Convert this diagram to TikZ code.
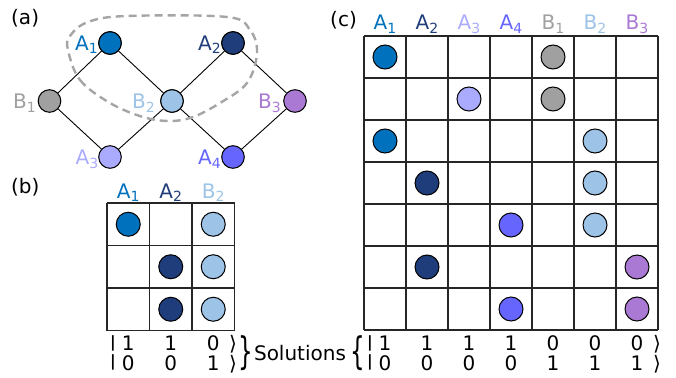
\documentclass[tikz,border=0pt]{standalone}
\usepackage{graphicx}
\usepackage{fontspec}
\setmainfont{DejaVu Sans}
\definecolor{cAa}{RGB}{0,114,189}
\definecolor{cAb}{RGB}{31,61,122}
\definecolor{cAc}{RGB}{170,170,255}
\definecolor{cAd}{RGB}{102,102,255}
\definecolor{cBa}{RGB}{160,160,160}
\definecolor{cBb}{RGB}{157,195,230}
\definecolor{cBc}{RGB}{170,121,212}
\definecolor{dashgray}{RGB}{165,165,165}
\newcommand\sbs[1]{\raisebox{-3.5pt}{\fontsize{14}{14}\selectfont #1}}
\newcommand\ketbar{\raisebox{3.4pt}{\fontsize{15.5}{16}\selectfont\bfseries |}}
\tikzset{
  vtx/.style={circle, draw=black, line width=1pt, minimum size=22.6pt, inner sep=0pt},
  cellc/.style={circle, draw=black, line width=1pt, minimum size=24pt, inner sep=0pt},
  lbl/.style={font=\fontsize{20}{24}\selectfont, inner sep=0pt},
  edge/.style={line width=0.9pt, black},
  gridline/.style={line width=1.5pt, black!85},
  ket/.style={font=\fontsize{20}{24}\selectfont, inner sep=0pt, anchor=base},
  bracetxt/.style={font=\fontsize{20}{24}\selectfont, inner sep=0pt},
}
\begin{document}
\begin{tikzpicture}[x=1pt,y=-1pt]
\useasboundingbox (0,0) rectangle (676,377);

% ---------- panel (a) ----------
\node[lbl, anchor=base west] (pa) at (11,25) {(a)};
\node[vtx, fill=cAa] (A1) at (110,43) {};
\node[vtx, fill=cAb] (A2) at (233,43) {};
\node[vtx, fill=cBa] (B1) at (49.5,101) {};
\node[vtx, fill=cBb] (B2) at (172,101) {};
\node[vtx, fill=cBc] (B3) at (295,101) {};
\node[vtx, fill=cAc] (A3) at (110,157) {};
\node[vtx, fill=cAd] (A4) at (233,157) {};
\draw[edge] (A1) -- (B1);
\draw[edge] (A1) -- (B2);
\draw[edge] (A2) -- (B2);
\draw[edge] (A2) -- (B3);
\draw[edge] (B1) -- (A3);
\draw[edge] (B2) -- (A3);
\draw[edge] (B2) -- (A4);
\draw[edge] (B3) -- (A4);
\draw[dashgray, line width=2.4pt, dash pattern=on 8pt off 5pt]
  plot[smooth cycle, tension=0.6] coordinates {(68,50) (80,80) (110,103) (143,117) (170,121) (193,117) (220,103) (247,83) (257,53) (250,30) (227,17) (127,16) (88,22) (70,36)};
\node[vtx, fill=cAa] at (A1) {};
\node[vtx, fill=cAb] at (A2) {};
\node[vtx, fill=cBb] at (B2) {};
\node[lbl, text=cAa, anchor=base east] (tA1) at (98,50.5) {A\sbs{1}};
\node[lbl, text=cAb, anchor=base east] (tA2) at (221,50.5) {A\sbs{2}};
\node[lbl, text=cAc, anchor=base east] (tA3) at (98.5,164.5) {A\sbs{3}};
\node[lbl, text=cAd, anchor=base east] (tA4) at (221,164.5) {A\sbs{4}};
\node[lbl, text=cBa, anchor=base east] (tB1) at (36,108.5) {B\sbs{1}};
\node[lbl, text=cBb, anchor=base east] (tB2) at (155,108.5) {B\sbs{2}};
\node[lbl, text=cBc, anchor=base east] (tB3) at (281,108.5) {B\sbs{3}};

% ---------- panel (b) ----------
\node[lbl, anchor=base west] (pb) at (11,193) {(b)};
\foreach \i in {0,...,3} {
  \draw[gridline] (107+42.5*\i,203) -- (107+42.5*\i,330.5);
  \draw[gridline] (107,203+42.5*\i) -- (234.5,203+42.5*\i);
}
\node[lbl, text=cAa, anchor=base] (hbA1) at (128.25,198) {A\sbs{1}};
\node[lbl, text=cAb, anchor=base] (hbA2) at (170.75,198) {A\sbs{2}};
\node[lbl, text=cBb, anchor=base] (hbB2) at (213.25,198) {B\sbs{2}};
\node[cellc, fill=cAa] (b11) at (128.25,224.25) {};
\node[cellc, fill=cBb] (b13) at (213.25,224.25) {};
\node[cellc, fill=cAb] (b22) at (170.75,266.75) {};
\node[cellc, fill=cBb] (b23) at (213.25,266.75) {};
\node[cellc, fill=cAb] (b32) at (170.75,309.25) {};
\node[cellc, fill=cBb] (b33) at (213.25,309.25) {};
% kets (b)
\node[ket] (bk1a) at (113,350.5) {\ketbar};
\node[ket] (bk1b) at (128.25,350.5) {1};
\node[ket] (bk1c) at (170.75,350.5) {1};
\node[ket] (bk1d) at (213.25,350.5) {0};
\node[ket] (bk1e) at (233,350.5) {⟩};
\node[ket] (bk2a) at (113,370) {\ketbar};
\node[ket] (bk2b) at (128.25,370) {0};
\node[ket] (bk2c) at (170.75,370) {0};
\node[ket] (bk2d) at (213.25,370) {1};
\node[ket] (bk2e) at (233,370) {⟩};
\node[bracetxt] (rb) at (246,353.5) {\scalebox{1.15}[1.9]{\}}};
\node[ket] (sol) at (300,360) {Solutions};
\node[bracetxt] (lb) at (357.5,353.5) {\scalebox{1.15}[1.9]{\{}};

% ---------- panel (c) ----------
\node[lbl, anchor=base west] (pc) at (330,27) {(c)};
\foreach \i in {0,...,7} {
  \draw[gridline] (364+42*\i,36) -- (364+42*\i,330);
  \draw[gridline] (364,36+42*\i) -- (658,36+42*\i);
}
\node[lbl, text=cAa, anchor=base] (hcA1) at (385,30) {A\sbs{1}};
\node[lbl, text=cAb, anchor=base] (hcA2) at (427,30) {A\sbs{2}};
\node[lbl, text=cAc, anchor=base] (hcA3) at (469,30) {A\sbs{3}};
\node[lbl, text=cAd, anchor=base] (hcA4) at (511,30) {A\sbs{4}};
\node[lbl, text=cBa, anchor=base] (hcB1) at (553,30) {B\sbs{1}};
\node[lbl, text=cBb, anchor=base] (hcB2) at (595,30) {B\sbs{2}};
\node[lbl, text=cBc, anchor=base] (hcB3) at (637,30) {B\sbs{3}};
% row 1
\node[cellc, fill=cAa] (c11) at (385,57) {};
\node[cellc, fill=cBa] (c15) at (553,57) {};
% row 2
\node[cellc, fill=cAc] (c23) at (469,99) {};
\node[cellc, fill=cBa] (c25) at (553,99) {};
% row 3
\node[cellc, fill=cAa] (c31) at (385,141) {};
\node[cellc, fill=cBb] (c36) at (595,141) {};
% row 4
\node[cellc, fill=cAb] (c42) at (427,183) {};
\node[cellc, fill=cBb] (c46) at (595,183) {};
% row 5
\node[cellc, fill=cAd] (c54) at (511,225) {};
\node[cellc, fill=cBb] (c56) at (595,225) {};
% row 6
\node[cellc, fill=cAb] (c62) at (427,267) {};
\node[cellc, fill=cBc] (c67) at (637,267) {};
% row 7
\node[cellc, fill=cAd] (c74) at (511,309) {};
\node[cellc, fill=cBc] (c77) at (637,309) {};
% kets (c)
\node[ket] (ck1a) at (370,350.5) {\ketbar};
\node[ket] (ck1b) at (385,350.5) {1};
\node[ket] (ck1c) at (427,350.5) {1};
\node[ket] (ck1d) at (469,350.5) {1};
\node[ket] (ck1e) at (511,350.5) {1};
\node[ket] (ck1f) at (553,350.5) {0};
\node[ket] (ck1g) at (595,350.5) {0};
\node[ket] (ck1h) at (637,350.5) {0};
\node[ket] (ck1i) at (657,350.5) {⟩};
\node[ket] (ck2a) at (370,370) {\ketbar};
\node[ket] (ck2b) at (385,370) {0};
\node[ket] (ck2c) at (427,370) {0};
\node[ket] (ck2d) at (469,370) {0};
\node[ket] (ck2e) at (511,370) {0};
\node[ket] (ck2f) at (553,370) {1};
\node[ket] (ck2g) at (595,370) {1};
\node[ket] (ck2h) at (637,370) {1};
\node[ket] (ck2i) at (657,370) {⟩};
\end{tikzpicture}
\end{document}
